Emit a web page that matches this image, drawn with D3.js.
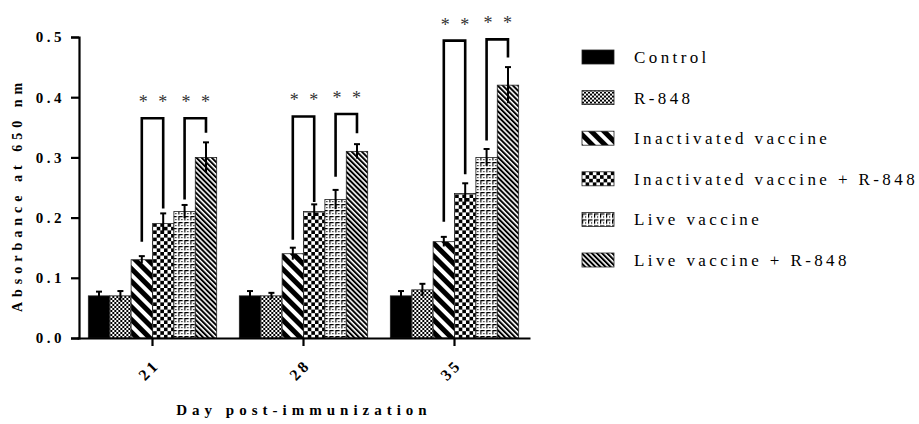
<!DOCTYPE html>
<html>
<head>
<meta charset="utf-8">
<script src="https://cdn.jsdelivr.net/npm/d3@7"></script>
<style>
  body { margin: 0; background: #fff; }
  svg text { font-family: "Liberation Serif", "Times New Roman", serif; }
</style>
</head>
<body>
<script>
// chart data
var days = ["21", "28", "35"];
var groups = ["Control", "R-848", "Inactivated vaccine", "Inactivated vaccine + R-848", "Live vaccine", "Live vaccine + R-848"];
var day21 = [0.07, 0.07, 0.13, 0.19, 0.21, 0.30];
var day28 = [0.07, 0.07, 0.14, 0.21, 0.23, 0.31];
var day35 = [0.07, 0.08, 0.16, 0.24, 0.30, 0.42];
var err21 = [0.007, 0.008, 0.006, 0.017, 0.011, 0.025];
var err28 = [0.008, 0.005, 0.010, 0.012, 0.016, 0.012];
var err35 = [0.008, 0.010, 0.008, 0.017, 0.014, 0.030];
var yTicks = [0.0, 0.1, 0.2, 0.3, 0.4, 0.5];

// significance brackets: [day, from group, to group, top, left leg end, right leg end]
var brackets = [
  ["21", 2, 3, 0.365, 0.160, 0.215],
  ["21", 4, 5, 0.365, 0.230, 0.341],
  ["28", 2, 3, 0.368, 0.163, 0.226],
  ["28", 4, 5, 0.372, 0.268, 0.340],
  ["35", 2, 3, 0.494, 0.193, 0.272],
  ["35", 4, 5, 0.496, 0.328, 0.466]
];

var means = [day21, day28, day35];
var errs = [err21, err28, err35];

var width = 919, height = 424;

var svg = d3.select("body").append("svg")
    .attr("width", width)
    .attr("height", height);

// fill patterns
var defs = svg.append("defs");

var p = defs.append("pattern").attr("id", "chkSmall").attr("patternUnits", "userSpaceOnUse")
    .attr("width", 4).attr("height", 4);
p.append("rect").attr("width", 4).attr("height", 4).attr("fill", "#fff");
p.append("rect").attr("width", 2).attr("height", 2).attr("fill", "#000");
p.append("rect").attr("x", 2).attr("y", 2).attr("width", 2).attr("height", 2).attr("fill", "#000");

p = defs.append("pattern").attr("id", "chkBig").attr("patternUnits", "userSpaceOnUse")
    .attr("width", 7.2).attr("height", 7.2);
p.append("rect").attr("width", 7.2).attr("height", 7.2).attr("fill", "#fff");
p.append("rect").attr("width", 3.6).attr("height", 3.6).attr("fill", "#000");
p.append("rect").attr("x", 3.6).attr("y", 3.6).attr("width", 3.6).attr("height", 3.6).attr("fill", "#000");

p = defs.append("pattern").attr("id", "stripeWide").attr("patternUnits", "userSpaceOnUse")
    .attr("width", 9).attr("height", 9).attr("patternTransform", "rotate(-45)");
p.append("rect").attr("width", 9).attr("height", 9).attr("fill", "#fff");
p.append("rect").attr("width", 5).attr("height", 9).attr("fill", "#000");

p = defs.append("pattern").attr("id", "stripeFine").attr("patternUnits", "userSpaceOnUse")
    .attr("width", 3.6).attr("height", 3.6).attr("patternTransform", "rotate(-45)");
p.append("rect").attr("width", 3.6).attr("height", 3.6).attr("fill", "#fff");
p.append("rect").attr("width", 2).attr("height", 3.6).attr("fill", "#000");

p = defs.append("pattern").attr("id", "brick").attr("patternUnits", "userSpaceOnUse")
    .attr("width", 6).attr("height", 6);
p.append("rect").attr("width", 6).attr("height", 6).attr("fill", "#fff");
p.append("path").attr("d", "M0,0h4.5v1.2h-3.3v3.3h-1.2z").attr("fill", "#000");
p.append("rect").attr("x", 3).attr("y", 3).attr("width", 1.2).attr("height", 1.2).attr("fill", "#000");

var fills = ["#000", "url(#chkSmall)", "url(#stripeWide)", "url(#chkBig)", "url(#brick)", "url(#stripeFine)"];

// scales
var x = d3.scaleBand().domain(days).range([77, 530]).paddingInner(0.15).paddingOuter(0.075);
var xi = d3.scaleBand().domain(d3.range(groups.length)).range([0, x.bandwidth()]);
var y = d3.scaleLinear().domain([0, 0.5]).range([338, 37]);

// bars
var dayG = svg.selectAll(".day")
    .data(days)
    .enter()
    .append("g")
    .attr("class", "day")
    .attr("transform", function(d){ return "translate(" + x(d) + ",0)"; });

dayG.selectAll("rect")
    .data(function(d, i){
        return means[i].map(function(v, j){ return {g: j, v: v, e: errs[i][j]}; });
    })
    .enter()
    .append("rect")
    .attr("x", function(d){ return xi(d.g); })
    .attr("y", function(d){ return y(d.v); })
    .attr("width", xi.bandwidth())
    .attr("height", function(d){ return y(0) - y(d.v); })
    .attr("fill", function(d){ return fills[d.g]; })
    .attr("stroke", "#222")
    .attr("stroke-width", 0.8);

// error bars
var eb = dayG.selectAll(".err")
    .data(function(d, i){
        return means[i].map(function(v, j){ return {g: j, v: v, e: errs[i][j]}; });
    })
    .enter()
    .append("g")
    .attr("class", "err");

eb.append("line")
    .attr("x1", function(d){ return xi(d.g) + xi.bandwidth() / 2; })
    .attr("x2", function(d){ return xi(d.g) + xi.bandwidth() / 2; })
    .attr("y1", function(d){ return y(d.v - d.e); })
    .attr("y2", function(d){ return y(d.v + d.e); })
    .attr("stroke", "#000")
    .attr("stroke-width", 2);

eb.append("line")
    .attr("x1", function(d){ return xi(d.g) + xi.bandwidth() / 2 - 3; })
    .attr("x2", function(d){ return xi(d.g) + xi.bandwidth() / 2 + 3; })
    .attr("y1", function(d){ return y(d.v + d.e); })
    .attr("y2", function(d){ return y(d.v + d.e); })
    .attr("stroke", "#000")
    .attr("stroke-width", 2);

// significance brackets
var br = svg.selectAll(".bracket")
    .data(brackets)
    .enter()
    .append("g")
    .attr("class", "bracket");

br.append("path")
    .attr("d", function(d){
        var x1 = x(d[0]) + xi(d[1]) + xi.bandwidth() / 2,
            x2 = x(d[0]) + xi(d[2]) + xi.bandwidth() / 2;
        return "M" + x1 + "," + y(d[4]) + "V" + y(d[3]) + "H" + x2 + "V" + y(d[5]);
    })
    .attr("fill", "none")
    .attr("stroke", "#000")
    .attr("stroke-width", 2.6);

br.append("text")
    .attr("x", function(d){
        return x(d[0]) + (xi(d[1]) + xi(d[2]) + xi.bandwidth()) / 2 + 2;
    })
    .attr("y", function(d){ return y(d[3]) - 10; })
    .attr("text-anchor", "middle")
    .attr("font-size", 18)
    .attr("letter-spacing", 3)
    .attr("fill", "#333")
    .text("* *");

// y axis
var yAxis = svg.append("g")
    .attr("transform", "translate(79,0)")
    .call(d3.axisLeft(y).tickValues(yTicks).tickSize(8).tickFormat(d3.format(".1f")));
yAxis.select(".domain").attr("stroke", "#000").attr("stroke-width", 2.2);
yAxis.selectAll(".tick line").attr("stroke", "#000").attr("stroke-width", 2.2);
yAxis.selectAll(".tick text")
    .attr("font-family", "Liberation Serif, serif")
    .attr("font-weight", "bold")
    .attr("font-size", 15)
    .attr("letter-spacing", 3.5)
    .attr("fill", "#000")
    .attr("x", -14);

// x axis
var xAxis = svg.append("g")
    .attr("transform", "translate(0,338)")
    .call(d3.axisBottom(x).tickSize(8).tickSizeOuter(0));
xAxis.select(".domain").attr("stroke", "#000").attr("stroke-width", 2.2);
xAxis.selectAll(".tick line").attr("stroke", "#000").attr("stroke-width", 2.2);
xAxis.selectAll(".tick text")
    .attr("font-family", "Liberation Serif, serif")
    .attr("font-weight", "bold")
    .attr("font-size", 16)
    .attr("letter-spacing", 3)
    .attr("fill", "#000")
    .attr("text-anchor", "end")
    .attr("y", 0)
    .attr("dy", 0)
    .attr("transform", "translate(8,28) rotate(-45)");

// axis titles
svg.append("text")
    .attr("transform", "translate(22,195) rotate(-90)")
    .attr("text-anchor", "middle")
    .attr("font-weight", "bold")
    .attr("font-size", 14)
    .attr("letter-spacing", 5)
    .text("Absorbance at 650 nm");

svg.append("text")
    .attr("x", 304)
    .attr("y", 415)
    .attr("text-anchor", "middle")
    .attr("font-weight", "bold")
    .attr("font-size", 15)
    .attr("letter-spacing", 5)
    .text("Day post-immunization");

// legend
var leg = svg.selectAll(".legend")
    .data(groups)
    .enter()
    .append("g")
    .attr("class", "legend")
    .attr("transform", function(d, i){ return "translate(582," + (57 + i * 40.6) + ")"; });

leg.append("rect")
    .attr("x", 0)
    .attr("y", -7)
    .attr("width", 32)
    .attr("height", 14)
    .attr("fill", function(d, i){ return fills[i]; })
    .attr("stroke", "#222")
    .attr("stroke-width", 0.8);

leg.append("text")
    .attr("x", 52)
    .attr("y", 6)
    .attr("font-size", 17)
    .attr("letter-spacing", 3.4)
    .text(function(d){ return d; });
</script>
</body>
</html>
